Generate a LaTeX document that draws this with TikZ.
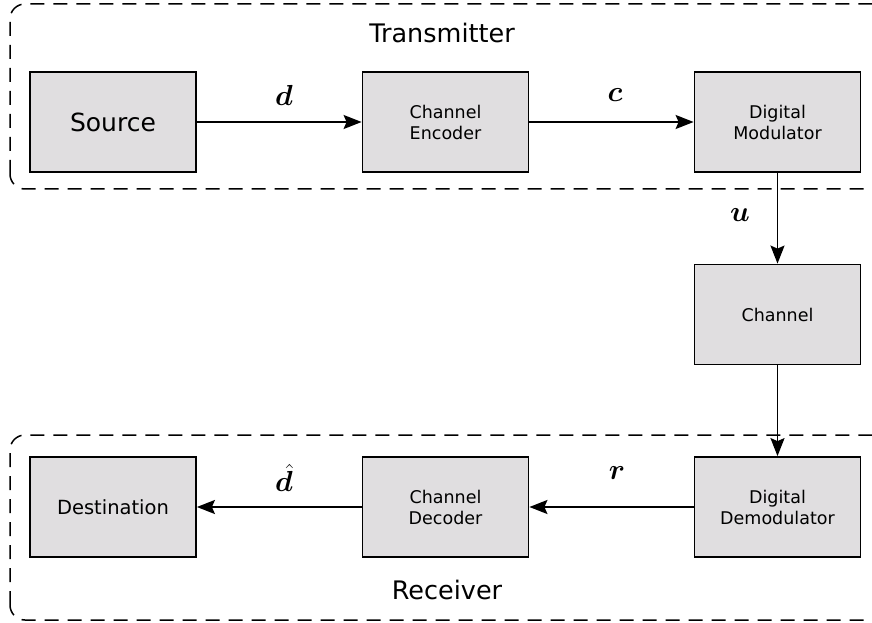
\documentclass[tikz,border=0pt]{standalone}
\usepackage{fix-cm}
\usepackage{fontspec}
\setmainfont{DejaVu Sans}
\usepackage{amsmath}
\usepackage{bm}
\usetikzlibrary{arrows.meta}
\definecolor{blockgray}{RGB}{224,222,224}
\tikzset{
  block/.style={draw, line width=1.8pt, fill=blockgray, minimum width=166pt,
    minimum height=100pt, align=center, inner sep=0pt,
    font=\fontsize{17.5}{21}\selectfont},
  group/.style={draw, line width=1.5pt, dash pattern=on 14pt off 9pt,
    rounded corners=15pt},
  link/.style={line width=1.8pt, -{Stealth[length=18pt,width=14pt,inset=3pt]}},
  sym/.style={font=\fontsize{29}{31}\selectfont}
}
\begin{document}
\begin{tikzpicture}[x=1pt,y=1pt]
  \useasboundingbox (0,0) rectangle (872,622);
  \clip (0,0) rectangle (872,622);
  \draw[group] (10,433) rectangle (890,618);
  \draw[group] (10,2) rectangle (890,187);
  \node (tx) at (442,589) [font=\fontsize{25.5}{30}\selectfont] {Transmitter};
  \node (rx) at (447,32) [font=\fontsize{25.5}{30}\selectfont] {Receiver};
  \node (src) at (113,500) [block, font=\fontsize{25}{30}\selectfont] {Source};
  \node (enc) at (445.5,500) [block] {Channel\\Encoder};
  \node (mod) at (777.5,500) [block] {Digital\\Modulator};
  \node (chan) at (777.5,307.5) [block] {Channel};
  \node (demod) at (777.5,115) [block] {Digital\\Demodulator};
  \node (dec) at (445.5,115) [block] {Channel\\Decoder};
  \node (dst) at (113,115) [block, font=\fontsize{19.5}{23}\selectfont] {Destination};
  \draw[link] (src) -- (enc); \draw[link] (enc) -- (mod);
  \draw[link] (mod) -- (chan); \draw[link] (chan) -- (demod);
  \draw[link] (demod) -- (dec); \draw[link] (dec) -- (dst);
  \node (ld) at (284,527) [sym] {$\bm{d}$};
  \node (lc) at (615,527) [sym] {$\bm{c}$};
  \node (lu) at (740,407) [sym] {$\bm{u}$};
  \node (ldh) at (284,144) [sym] {$\hat{\bm{d}}$};
  \node (lr) at (617,149) [sym] {$\bm{r}$};
\end{tikzpicture}
\end{document}
